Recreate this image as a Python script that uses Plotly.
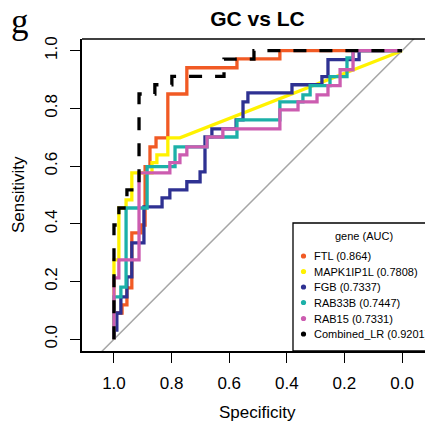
import plotly.graph_objects as go

# ROC data (specificity, sensitivity)
genes = ["FTL", "MAPK1IP1L", "FGB", "RAB33B", "RAB15", "Combined_LR"]
auc = ["0.864", "0.7808", "0.7337", "0.7447", "0.7331", "0.9201"]
colors = ["#F15A24", "#FFF200", "#2E3192", "#1CB0A8", "#CC5CB0", "#000000"]

ftl_spec = [1, 1, 0.972, 0.972, 0.955, 0.955, 0.938, 0.938, 0.906, 0.906, 0.892, 0.892, 0.875,
            0.875, 0.854, 0.854, 0.813, 0.813, 0.747, 0.747, 0.573, 0.573, 0.424, 0.424, 0]
ftl_sens = [0, 0.091, 0.091, 0.119, 0.119, 0.178, 0.178, 0.369, 0.369, 0.396, 0.396, 0.598, 0.598,
            0.667, 0.667, 0.698, 0.698, 0.850, 0.850, 0.941, 0.941, 0.972, 0.972, 1, 1]

mapk_spec = [1, 1, 0.983, 0.983, 0.958, 0.958, 0.938, 0.938, 0.868, 0.868, 0.851, 0.851,
             0.813, 0.813, 0.771, 0]
mapk_sens = [0, 0.275, 0.275, 0.455, 0.455, 0.483, 0.483, 0.577, 0.577, 0.612, 0.612, 0.639,
             0.639, 0.698, 0.698, 1]

fgb_spec = [1, 1, 0.990, 0.990, 0.976, 0.976, 0.955, 0.955, 0.938, 0.938, 0.896, 0.896, 0.833,
            0.833, 0.806, 0.806, 0.747, 0.747, 0.701, 0.701, 0.684, 0.684, 0.660, 0.660, 0.576,
            0.576, 0.552, 0.552, 0.535, 0.535, 0.382, 0.382, 0.278, 0.278, 0.257, 0.257, 0.149,
            0.149, 0]
fgb_sens = [0, 0.032, 0.032, 0.091, 0.091, 0.147, 0.147, 0.216, 0.216, 0.334, 0.334, 0.459, 0.459,
            0.490, 0.490, 0.518, 0.518, 0.546, 0.546, 0.580, 0.580, 0.701, 0.701, 0.729, 0.729,
            0.760, 0.760, 0.823, 0.823, 0.854, 0.854, 0.882, 0.882, 0.910, 0.910, 0.969, 0.969,
            1, 1]

rab33b_spec = [1, 1, 0.976, 0.976, 0.958, 0.958, 0.885, 0.885, 0.788, 0.788, 0.677, 0.677, 0.573,
               0.573, 0.424, 0.424, 0.344, 0.344, 0.319, 0.319, 0.250, 0.250, 0.191, 0.191, 0.170,
               0.170, 0]
rab33b_sens = [0, 0.147, 0.147, 0.181, 0.181, 0.455, 0.455, 0.598, 0.598, 0.667, 0.667, 0.701,
               0.701, 0.760, 0.760, 0.823, 0.823, 0.847, 0.847, 0.879, 0.879, 0.910, 0.910, 0.975,
               0.975, 1, 1]

rab15_spec = [1, 1, 0.983, 0.983, 0.913, 0.913, 0.806, 0.806, 0.771, 0.771, 0.747, 0.747, 0.677,
              0.677, 0.622, 0.622, 0.424, 0.424, 0.361, 0.361, 0.295, 0.295, 0.257, 0.257, 0.215,
              0.215, 0.170, 0.170, 0]
rab15_sens = [0, 0.213, 0.213, 0.275, 0.275, 0.577, 0.577, 0.612, 0.612, 0.639, 0.639, 0.667,
              0.667, 0.701, 0.701, 0.729, 0.729, 0.795, 0.795, 0.823, 0.823, 0.847, 0.847, 0.879,
              0.879, 0.934, 0.934, 1, 1]

comb_spec = [1, 1, 0.983, 0.983, 0.955, 0.955, 0.913, 0.913, 0.858, 0.858, 0.799, 0.799, 0.618,
             0.618, 0.514, 0.514, 0]
comb_sens = [0, 0.396, 0.396, 0.455, 0.455, 0.518, 0.518, 0.850, 0.850, 0.882, 0.882, 0.911,
             0.911, 0.971, 0.971, 1, 1]

chance_spec = [1.3, -0.3]
chance_sens = [-0.3, 1.3]

x_ticks = [1.0, 0.8, 0.6, 0.4, 0.2, 0.0]
y_ticks = [0.0, 0.2, 0.4, 0.6, 0.8, 1.0]

specs = [ftl_spec, mapk_spec, fgb_spec, rab33b_spec, rab15_spec, comb_spec]
senss = [ftl_sens, mapk_sens, fgb_sens, rab33b_sens, rab15_sens, comb_sens]

# the page body adds 8px around the plot div, so lay out in window pixels minus that
OFF = 8
W, H = 433 - OFF, 428 - OFF
ML, MR, MT, MB = 82 - OFF, 0, 39 - OFF, 428 - 351
PW, PH = W - ML - MR, H - MT - MB


def px(x):
    return (x - OFF - ML) / PW


def py(y):
    return (H - MB - (y - OFF)) / PH


FONT = "Liberation Sans, Arial, sans-serif"

fig = go.Figure()
fig.add_trace(go.Scatter(x=chance_spec, y=chance_sens, mode="lines",
                         line=dict(color="#A6A6A6", width=1.5), hoverinfo="skip"))
for g, c, sx, sy in zip(genes, colors, specs, senss):
    dash = "13px,13px" if g == "Combined_LR" else "solid"
    fig.add_trace(go.Scatter(x=sx, y=sy, mode="lines", name=g,
                             line=dict(color=c, width=3.3, dash=dash)))

# legend box drawn by hand (R style)
shapes = [
    dict(type="rect", xref="paper", yref="paper", x0=px(293), x1=1.05, y0=0, y1=py(223),
         line=dict(color="black", width=1.3), fillcolor="white", layer="above"),
    dict(type="line", xref="paper", yref="paper", x0=0, x1=1.05, y0=1, y1=1,
         line=dict(color="black", width=1.5)),
]
annotations = [
    dict(text="gene (AUC)", xref="paper", yref="paper", x=px(364), y=py(236),
         xanchor="center", yanchor="middle",
         showarrow=False, font=dict(size=11, family=FONT, color="black")),
]
row_y = [256, 271.5, 287, 302.5, 318.5, 334]
for g, a, c, ry in zip(genes, auc, colors, row_y):
    shapes.append(dict(type="circle", xref="paper", yref="paper",
                       xsizemode="pixel", ysizemode="pixel",
                       xanchor=px(303.5), yanchor=py(ry), x0=-2.6, x1=2.6, y0=-2.6, y1=2.6,
                       fillcolor=c, line=dict(width=0), layer="above"))
    annotations.append(dict(text=f"{g} ({a})", xref="paper", yref="paper", x=px(312),
                            y=py(ry), xanchor="left", yanchor="middle", showarrow=False,
                            font=dict(size=11, family=FONT, color="black")))

annotations += [
    dict(text="Specificity", xref="paper", yref="paper", x=px(257.5), y=py(412),
         xanchor="center", yanchor="middle",
         showarrow=False, font=dict(size=17, family=FONT, color="black")),
    dict(text="Sensitivity", xref="paper", yref="paper", x=px(18), y=py(195),
         xanchor="center", yanchor="middle",
         textangle=-90, showarrow=False, font=dict(size=17, family=FONT, color="black")),
    dict(text="g", xref="paper", yref="paper", x=px(20), y=py(22),
         xanchor="center", yanchor="middle",
         showarrow=False, font=dict(size=35, family="Liberation Serif, serif", color="black")),
]

fig.update_layout(
    width=W, height=H,
    margin=dict(l=ML, r=MR, t=MT, b=MB),
    paper_bgcolor="white", plot_bgcolor="white",
    showlegend=False,
    title=dict(text="<b>GC vs LC</b>", x=px(257.5), xref="paper", xanchor="center",
               y=1 - (19 - OFF) / H, yref="container", yanchor="middle",
               font=dict(size=21, family=FONT, color="black")),
    shapes=shapes,
    annotations=annotations,
)
fig.update_xaxes(range=[1.111, -0.1076], tickvals=x_ticks, ticktext=[f"{v:.1f}" for v in x_ticks],
                 showgrid=False, zeroline=False, showline=True, linecolor="black", linewidth=1.5,
                 ticks="outside", ticklen=10, tickwidth=1.3, tickcolor="black", automargin=False,
                 ticklabelstandoff=6, tickfont=dict(size=17, family=FONT, color="black"))
fig.update_yaxes(range=[-0.0406, 1.0406], tickvals=y_ticks, ticktext=[f"{v:.1f}" for v in y_ticks],
                 showgrid=False, zeroline=False, showline=True, linecolor="black", linewidth=1.5,
                 ticks="outside", ticklen=10, tickwidth=1.3, tickcolor="black", tickangle=-90,
                 automargin=False,
                 ticklabelstandoff=6, tickfont=dict(size=17, family=FONT, color="black"))

fig.write_html("out.html")
